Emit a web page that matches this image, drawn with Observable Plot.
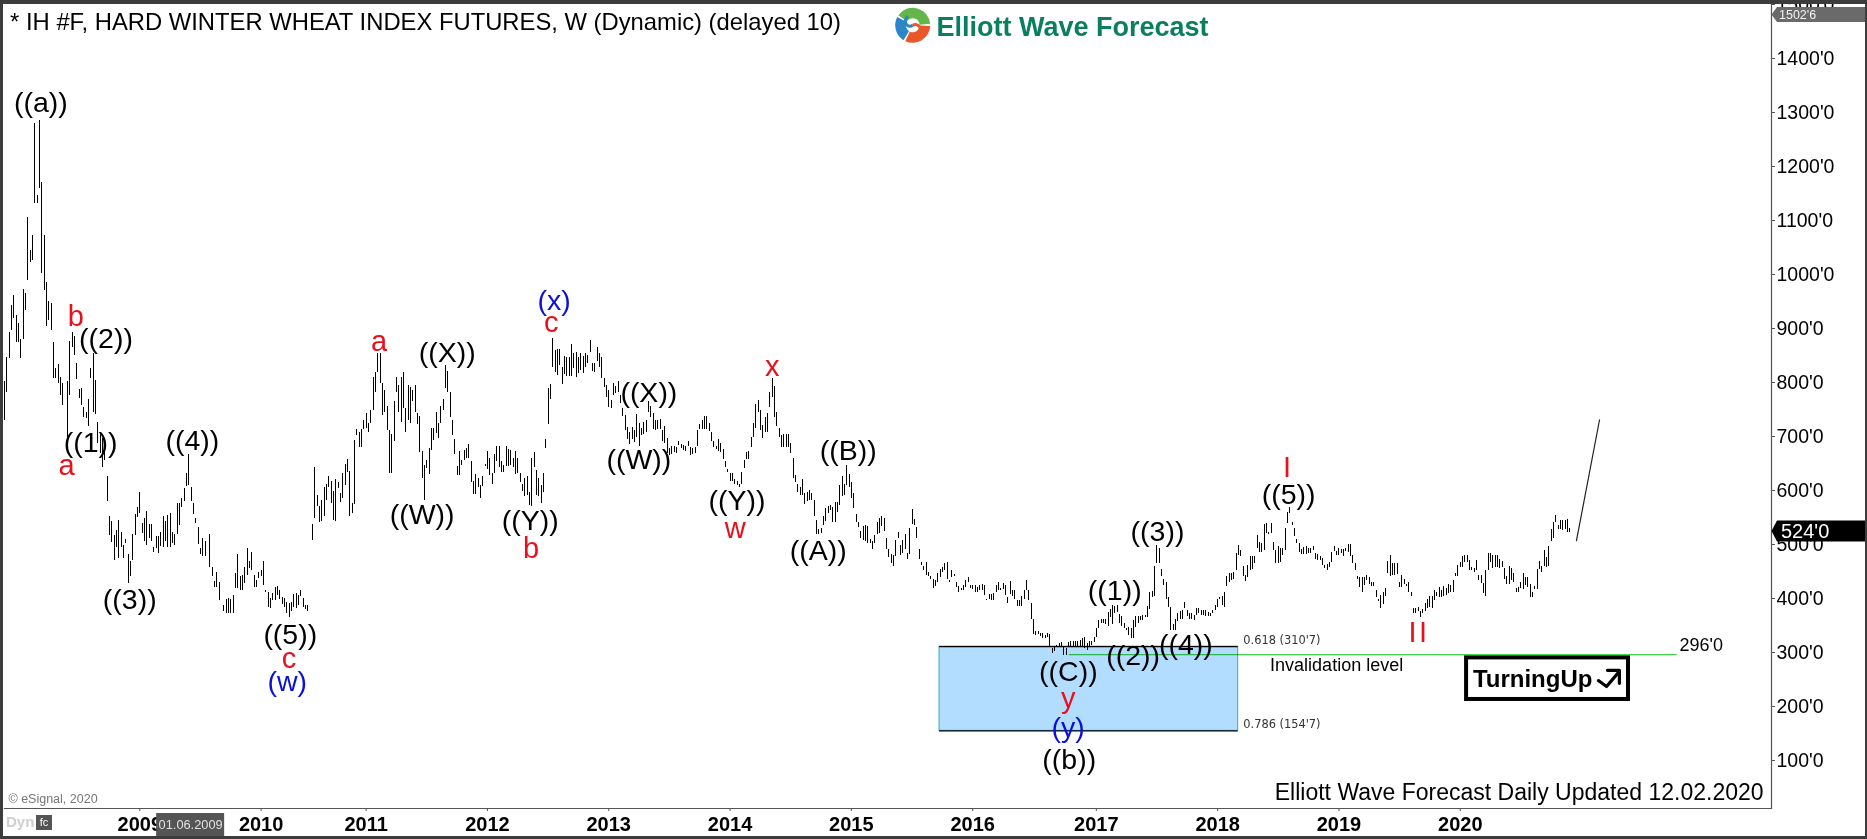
<!DOCTYPE html>
<html>
<head>
<meta charset="utf-8">
<title>Hard Winter Wheat Index Futures</title>
<script src="https://cdn.jsdelivr.net/npm/d3@7"></script>
<script src="https://cdn.jsdelivr.net/npm/@observablehq/plot@0.6"></script>
<style>
  html, body { margin: 0; padding: 0; background: #fff; }
  #wrap { position: relative; width: 1867px; height: 839px; overflow: hidden; }
  #chrome { position: absolute; inset: 0; box-sizing: border-box; pointer-events: none;
            border-style: solid; border-color: #3c3c3c; border-width: 4px 2px 3px 3px; }
  .wide { letter-spacing: 2.4px; }
</style>
</head>
<body>
<div id="wrap"><div id="chart"></div><div id="chrome"></div></div>
<script>
// Weekly high/low pairs, [high, low]; null = no bar drawn.
const bars2008 = [[801,730],[847,782],[893,844],[943,896],[962,918],[924,874],[909,874],[879,844],[972,879],[964,933],
[1106,988],[1045,1023],[1072,1026],[1280,1131],[1146,1131],[1286,1159],[1171,1001],[1072,970],[986,904],[950,914],
[946,896],[874,808],[825,807],[833,798],[809,775],[798,758],null,[801,668],[875,776],[893,864],[885,850],
[835,806],[787,770],[788,758],[754,735],[745,733],[768,718],[825,807],[853,745],[804,741],[726,687],
[708,668],[696,643],[693,655],[625,580],[552,517],[543,503],[517,470],[525,494],[544,474],[523,494],
[498,474],[509,502],[482,428],[468,440],[518,470],[555,517],[568,550],[596,558],[539,520],[548,506],
[561,498],[537,511],[537,505],[495,486],[514,492],[514,483],[523,497],[551,494],[543,505],[554,494],
[557,495],[523,502],[519,498],[576,518],[576,536],[585,568],[603,579],[631,608],[666,610],[606,579],
[576,556],[548,539],[532,500],[492,481],[512,478],[505,477],null,[518,457],[457,440],[431,420],[448,421],[430,396]];
const bars2009 = [[387,375],[398,373],[400,372],[398,372],[406,372],[446,418],[482,418],[440,414],[443,414],[458,427],
[493,443],[469,455],[486,452],[443,421],[433,421],[449,437],[452,440],[469,424],[415,412],[412,384],
[400,381],[409,396],[420,396],[422,406],[414,399],[401,389],[400,384],[393,372],[390,364],[393,375],
[408,384],[409,381],[406,387],[415,403],[400,384],[387,379],[387,375]];
const bars2010 = [[537,508],[643,549],[591,571],[571,540],[582,542],[605,551],[611,582],[625,606],[617,575],[599,545],
[620,543],[614,603],[594,577],[631,585],[648,609],[657,634],[635,552],[575,557],[693,574],[713,701],
[708,680],[713,680],[730,713],[743,714],[724,708],[748,724],[810,748],[819,781],[854,819],[854,798],
[798,739],[785,744],[756,711],[711,632],[704,632],[765,690],[810,782],[795,745],[810,725],[819,751],
[751,708],[795,730],[790,724],[785,764],[795,744],[743,722],[737,671],[673,623],[646,582],[656,640],
[677,629],[714,674],[714,693],[745,705],[724,697],[756,724],[769,748],[832,788],[821,781],[781,735],
[730,702],[695,667],[645,627],[672,628],[656,646],[674,656],[677,659],[685,659],[654,614],[617,593],
[630,592],[622,605],[609,586],[626,608],[648,645],[672,638],[659,628],[631,611],[667,631],[682,654],
[682,643],[654,634],[646,634],[682,645],[675,645],[674,646],[659,643],[672,630],[659,631],[631,614],
[611,599],[622,588],[626,591],[596,572],[660,571],[671,642],[637,590]];
const bars2012 = [[622,588],[609,575],[631,597],[695,678],[788,722],[796,768],[881,827],[859,819],[862,813],[861,832],
[827,796],[848,815],[847,811],[847,812],[870,812],[854,825],[856,809],[847,816],[853,822],
[848,816],[854,827],[850,835],[878,855],[836,821],[835,819],[865,838],[853,827],[846,807],[807,790],
[795,773],[785,753],[767,751],[798,776],[793,779],[801,782],[776,762],[751,737],[738,711],[717,695],
[708,685],[716,694],[712,688],[741,698],[724,682],[714,701],[725,704],[730,707],[765,745],[756,735],
[743,713],[730,712],[730,713],[732,713],[712,690],[719,687],[696,668],[677,665],[682,667],[682,671],
[680,669],[690,683],[685,677],[683,674],[682,673],[691,682],[680,665],[677,666],[680,668],[711,682],
[722,713],[729,713],[737,713],[737,713],[724,709],[708,690],[690,679],[682,675],[694,673],[687,671],
[675,658],[654,642],[639,634],[631,617],[631,616],[620,611],[617,609],[611,606],[634,612],[656,640],
[671,657],[673,657],[699,680],[724,698],[759,714],[766,745],[748,712],[720,696],[735,708],[742,708],
[782,753],[807,773],[793,735],[745,719],[714,699],[702,680],[704,679],[703,679],[704,679],[687,669],
[659,622],[628,614],[611,597],[606,591],[620,590],[594,574],[596,579],[600,582],[594,582],[582,551]];
const bars2015 = [[544,519],[527,519],[529,520],[552,535],[566,543],[570,557],[572,563],[569,540],[578,541],[577,560],
[609,572],[626,589],[612,591],[646,609],[630,606],[615,585],[594,566],[555,541],[540,531],[524,512],
[533,507],[535,506],[533,502],[510,501],[506,490],[517,501],[541,518],[548,520],[552,533],[549,524],
[512,490],[490,475],[481,464],[480,460],[507,477],[523,512],[499,480],[507,483],[519,491],[483,472],
[529,481],[564,537],[546,536],[532,512],[491,472],[466,461],[459,451],[466,443],[448,441],[441,435],
[436,418],[433,423],[446,429],[453,438],[458,449],[464,452],[466,436],[433,429],[452,438],[444,441],
[429,420],[422,412],[419,414],[424,414],[433,421],[438,430],[424,418],[424,417],[424,412],[421,411],
[424,415],[426,415],[424,406],[399,396],[407,398],[407,396],[409,396],[424,411],[429,414],[418,415],
[427,416],[424,406],[401,390],[432,407],[415,404],[414,399],[396,385],[396,385],[403,386],[415,398],
[433,415],[415,396],[390,362],[362,333],[339,332],[338,333],[336,330],[335,325],[332,325],[335,327],
[333,311],[307,298],[309,302],[313,310],[316,310],[319,310],[310,295],[308,295],[319,310],[320,310],[320,310],[320,310],[320,310],[322,311]];
const bars2017 = [[325,310],[327,307],[316,304],[320,312],[321,313],[328,318],[344,328],[359,344],[361,354],[362,353],
[361,352],[374,349],[379,364],[387,352],[386,372],[387,374],[370,353],[366,349],[354,344],[345,341],
[347,332],[344,325],[359,325],[366,347],[366,353],[366,359],[369,359],[369,364],[385,364],[412,379],
[413,401],[459,403],[499,464],[492,464],[453,441],[436,424],[429,399],[401,384],[384,341],[352,341],
[362,341],[373,358],[375,361],[378,362],[392,381],[378,366],[372,361],[372,361],[369,359],[381,369],
[381,372],[378,369],[378,369],[377,367],[374,366],[372,366],[378,372],[387,377],[399,384],[401,398],
[403,387],[412,384],[440,422],[446,430],[446,433],[449,436],[483,451],[498,480],[488,478],[459,440],
[443,432],[461,438],[477,452],[478,454],[478,464],[517,492],[504,486],[501,486],[537,488],[538,520],
[523,519],[538,520],[504,488],[489,464],[496,464],[492,467],[492,480],[529,489],[559,538],[569,558],
[541,535],[529,514],[509,501],[501,486],[491,482],[495,482],[496,482],[492,484],[492,483],[496,489],
[483,472],[481,470],[478,470],[474,461],[461,455],[463,451],[467,458],[486,467],[496,487]];
const bars2019 = [[487,480],[492,480],[490,483],[491,478],[493,487],[500,486],[500,478],[480,465],[464,452],[440,435],
[438,421],[438,412],[438,424],[443,433],[438,426],[430,422],[429,422],[415,401],[399,395],[406,381],
[412,389],[419,404],[469,446],[480,441],[464,443],[464,443],[464,444],[430,421],[443,421],[436,426],
[426,422],[429,412],[412,403],[381,373],[381,373],[384,375],[375,364],[379,372],[391,375],[398,381],
[403,384],[403,382],[414,396],[411,404],[421,401],[414,401],[422,403],[418,406],[426,410],[424,412],
[433,412],[446,440],[461,441],[467,457],[478,458],[480,467],[480,466],[470,452],[457,451],[455,449],
[470,451],[443,433],[443,427],[428,409],[452,404],[484,452],[483,467],[480,455],[480,457],[480,457],
[472,455],[469,457],[455,435],[440,425],[459,426],[455,433],[447,430],[418,412],[421,412],[430,418],
[446,417],[438,424],[438,421],[425,401],[412,401],[422,416],[454,416],[469,453],[459,449],[488,459],
[475,457],[496,459],[527,506],[541,512],[554,541],[535,527],[544,527],[544,526],[544,527],[546,523],[529,523]];
const segmentStarts = [0, 94, 132, 229, 348, 462, 571];
const segments = [bars2008, bars2009, bars2010, bars2012, bars2015, bars2017, bars2019];

// Axes
const yearTicks = [58,110,155,207,259,311,363,415,468,520,572,624];
const yearLabels = ["2009","2010","2011","2012","2013","2014","2015","2016","2017","2018","2019","2020"];
const priceTicks = [100,200,300,400,500,600,700,800,900,1000,1100,1200,1300,1400,1500];

// Wave labels: [text, week, price]
const blackLabels = [["((a))",15.6,1317],["((2))",43.5,880],["((X))",189.8,854],["((1))",36.9,689],["((4))",80.5,691],
["((3))",53.7,398],["((5))",122.5,333],["((W))",179,554],["((Y))",225.4,543],["((X))",276.2,781],["((W))",271.9,656],
["((Y))",314,580],["((A))",348.8,489],["((B))",361.7,673],["((C))",456,264],["((b))",456.4,101],["((1))",475.9,414],
["((2))",483.8,294],["((3))",494.2,524],["((4))",506.4,314],["((5))",550.4,591]];
const redLabels = [["b",30.6,921],["a",160.5,875],["c",234.4,910],["a",26.6,645],["c",121.9,288],["b",225.7,492],
["x",329.1,830],["w",313.2,530],["y",456,215],["I",549.7,643]];
const redLabelsWide = [["II",606.3,336]];
const blueLabels = [["(x)",235.6,951],["(w)",121.2,245],["(y)",455.9,160]];

// Fibonacci zone, invalidation level, forecast path
const fibZone = {week1: 400.8, week2: 528.8, top: 310.875, bottom: 154.875};
const invalidation = {week1: 456.4, week2: 717, price: 296};
const forecastPath = [[673.8,507],[683.7,731]];
const lastPrice = 524, topPrice = 1502.75;

// "TurningUp" badge
const badge = {week1: 626.7, week2: 696.1, top: 290, bottom: 213};
const arrowTail = [[683.2,248],[686.7,237],[692.2,265]];
const arrowHead = [[687.1,267],[692.2,267],[692.2,243]];

const bars = segments.flatMap((s, n) => s.map((p, k) => p && {week: segmentStarts[n] + k, high: p[0], low: p[1]})).filter(Boolean);
const labelRows = a => a.map(([text, week, price]) => ({text, week, price}));
const font = "Liberation Sans, Arial, sans-serif";

const labelMark = (rows, fill, fontSize, extra = {}) => Plot.text(labelRows(rows), {
  x: "week", y: "price", text: "text", fill, fontSize, fontFamily: font, ...extra
});

function overlays(index, {x, y}, values, {width, height, marginTop, marginRight}) {
  const g = d3.create("svg:g").attr("font-family", font).attr("text-anchor", "start");
  const axisX = width - marginRight;
  const formatPrice = p => `${Math.floor(p)}'${Math.round((p % 1) * 8)}`;
  const tag = (price, fill, color, h, size, tx) => {
    const yc = Math.max(y(price), marginTop + 10.5);
    g.append("polygon").attr("fill", fill)
      .attr("points", `${axisX + 0.5},${yc} ${axisX + 6},${yc - h / 2} ${width},${yc - h / 2} ${width},${yc + h / 2} ${axisX + 6},${yc + h / 2}`);
    g.append("text").attr("x", tx).attr("y", yc).attr("dy", "0.35em").attr("fill", color).attr("font-size", size).text(formatPrice(price));
  };
  tag(topPrice, "#6a6a6a", "#f2f2f2", 15, 12.5, axisX + 8);
  tag(lastPrice, "#000", "#fff", 21, 20, axisX + 10);

  // date cursor on the time axis
  const cx = x(80);
  const by = height;
  g.append("rect").attr("x", cx - 34.5).attr("y", by - 26).attr("width", 68).attr("height", 24).attr("fill", "#555");
  g.append("text").attr("x", cx).attr("y", by - 14).attr("dy", "0.35em").attr("text-anchor", "middle")
    .attr("fill", "#e0e0e0").attr("font-size", 12.8).text("01.06.2009");

  // "Dyn" corner control
  g.append("text").attr("x", 6).attr("y", by - 17).attr("dy", "0.35em").attr("fill", "#cfcfcf")
    .attr("font-weight", "bold").attr("font-size", 15).text("Dyn");
  g.append("rect").attr("x", 36).attr("y", by - 24).attr("width", 16).attr("height", 15).attr("fill", "#555");
  g.append("text").attr("x", 44).attr("y", by - 16.5).attr("dy", "0.35em").attr("text-anchor", "middle")
    .attr("fill", "#fff").attr("font-size", 11).text("fc");

  // logo swirl
  const logo = g.append("g").attr("transform", "translate(912.7,25.3)");
  const arc = d3.arc().innerRadius(7).outerRadius(17.5);
  const deg = Math.PI / 180;
  [["#62b64a", -55, 85], ["#e9572b", 92, 205], ["#2b86c9", 212, 298]].forEach(([c, a, b]) =>
    logo.append("path").attr("fill", c).attr("d", arc({startAngle: a * deg, endAngle: b * deg})));
  logo.append("path").attr("fill", "none").attr("stroke", "#2b86c9").attr("stroke-width", 3).attr("d", "M-5,-9 C-11,-2 -4,3 0,0");
  logo.append("path").attr("fill", "none").attr("stroke", "#e9572b").attr("stroke-width", 3).attr("d", "M0,0 C5,-3 11,3 5,9");
  return g.node();
}

const chart = Plot.plot({
  width: 1867, height: 839,
  marginLeft: 4, marginRight: 96, marginTop: 4, marginBottom: 31,
  style: {background: "#fff", fontFamily: font},
  x: {type: "linear", domain: [0, 757.4]},
  y: {type: "linear", domain: [11.1, 1500]},
  marks: [
    Plot.axisX({anchor: "bottom", ticks: yearTicks, tickSize: 3, tickPadding: 5, stroke: "#555", fill: "#000",
      tickFormat: d => yearLabels[yearTicks.indexOf(d)], fontSize: 20, fontWeight: "bold", label: null}),
    Plot.axisY({anchor: "right", ticks: priceTicks, tickSize: 3, tickPadding: 2, stroke: "#555", fill: "#000",
      tickFormat: d => `${d}'0`, fontSize: 19.5, label: null}),
    Plot.frame({anchor: "right", stroke: "#555", strokeWidth: 1.2}),
    Plot.frame({anchor: "bottom", stroke: "#555", strokeWidth: 1.2}),
    Plot.rect([fibZone], {x1: "week1", x2: "week2", y1: "bottom", y2: "top", fill: "#b3ddff", stroke: "#3aa4c4", strokeWidth: 1}),
    Plot.ruleY([fibZone.top, fibZone.bottom], {x1: fibZone.week1, x2: fibZone.week2, stroke: "#000", strokeWidth: 1.3}),
    Plot.ruleX(bars, {x: "week", y1: "low", y2: "high", stroke: "#000", strokeWidth: 1, shapeRendering: "crispEdges"}),
    Plot.ruleY([invalidation.price], {x1: invalidation.week1, x2: invalidation.week2, stroke: "#3fd24a", strokeWidth: 1.4, mixBlendMode: "multiply"}),
    Plot.line(forecastPath, {x: d => d[0], y: d => d[1], stroke: "#222", strokeWidth: 1.2}),
    labelMark(blackLabels, "#000", 28.5),
    labelMark(redLabels, "#e8101c", 29),
    labelMark(redLabelsWide, "#e8101c", 29, {className: "wide"}),
    labelMark(blueLabels, "#0a10d8", 28.5),
    Plot.text(["* IH #F, HARD WINTER WHEAT INDEX FUTURES, W (Dynamic) (delayed 10)"], {x: 2.4, y: 1467, textAnchor: "start", fontSize: 23.8, fill: "#000", fontFamily: font}),
    Plot.text(["Elliott Wave Forecast"], {x: 399.5, y: 1458, textAnchor: "start", fontSize: 27, fontWeight: "bold", fill: "#0a7f5f", fontFamily: font}),
    Plot.text(["Elliott Wave Forecast Daily Updated 12.02.2020"], {x: 754, y: 41, textAnchor: "end", fontSize: 23, fill: "#000", fontFamily: font}),
    Plot.text(["© eSignal, 2020"], {x: 1.7, y: 28, textAnchor: "start", fontSize: 12.5, fill: "#777", fontFamily: font}),
    Plot.text(["296'0"], {x: 718, y: 313, textAnchor: "start", fontSize: 18, fill: "#000", fontFamily: font}),
    Plot.text(["Invalidation level"], {x: 571, y: 276, fontSize: 18, fill: "#000", fontFamily: font}),
    Plot.text(["0.618 (310'7)"], {x: 531, y: 322, textAnchor: "start", fontSize: 11.4, fill: "#333", fontFamily: "DejaVu Sans"}),
    Plot.text(["0.786 (154'7)"], {x: 531, y: 167, textAnchor: "start", fontSize: 11.4, fill: "#333", fontFamily: "DejaVu Sans"}),
    Plot.rect([badge], {x1: "week1", x2: "week2", y1: "bottom", y2: "top", fill: "#fff", stroke: "#000", strokeWidth: 4}),
    Plot.text(["TurningUp"], {x: 629.4, y: 250, textAnchor: "start", fontSize: 24, fontWeight: "bold", fill: "#000", fontFamily: font}),
    Plot.line(arrowTail, {x: d => d[0], y: d => d[1], stroke: "#000", strokeWidth: 3.2}),
    Plot.line(arrowHead, {x: d => d[0], y: d => d[1], stroke: "#000", strokeWidth: 3.2}),
    overlays
  ]
});
document.getElementById("chart").appendChild(chart);
</script>
</body>
</html>
